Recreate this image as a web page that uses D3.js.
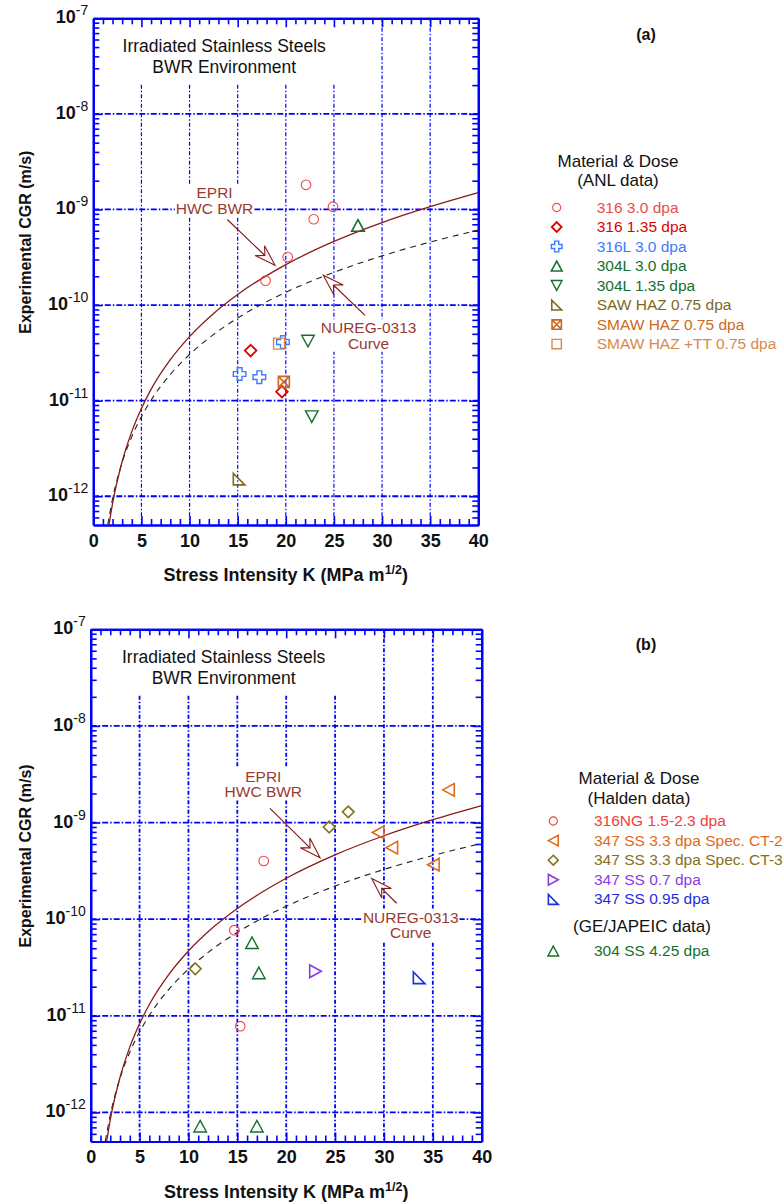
<!DOCTYPE html>
<html><head><meta charset="utf-8">
<script src="https://cdn.jsdelivr.net/npm/d3@7"></script>
<style>
body{margin:0;background:#fff}
svg{display:block}
text{font-family:"Liberation Sans",Arial,Helvetica,sans-serif}
</style>
</head><body>
<svg id="c" width="783" height="1204"></svg>
<script>
// ---------------- DATA ----------------
const xDomain = [0, 40];
const yDomain = [5e-13, 1e-7];
const xTickValues = [0, 5, 10, 15, 20, 25, 30, 35, 40];
const xGridValues = [5, 10, 15, 20, 25, 30, 35];
const yDecadeValues = [1e-12, 1e-11, 1e-10, 1e-9, 1e-8, 1e-7];
const yTickExponents = ["-12", "-11", "-10", "-9", "-8", "-7"];

// Model curves (K in MPa m^1/2, CGR in m/s)
const kCurve   = [1.5, 2, 3, 4, 5, 6, 8, 10, 12.5, 15, 20, 25, 30, 35, 40];
const epriCGR  = [4.08e-13, 8.37e-13, 2.31e-12, 4.74e-12, 8.27e-12, 1.31e-11, 2.68e-11, 4.68e-11, 8.18e-11, 1.29e-10, 2.65e-10, 4.63e-10, 7.30e-10, 1.07e-9, 1.50e-9];
const nuregCGR = [5.04e-13, 9.39e-13, 2.26e-12, 4.20e-12, 6.80e-12, 1.01e-11, 1.88e-11, 3.04e-11, 4.93e-11, 7.31e-11, 1.36e-10, 2.20e-10, 3.27e-10, 4.56e-10, 6.08e-10];

// (a) ANL data  [K, CGR]
const anl316_30   = [[22.1, 1.81e-9], [24.9, 1.07e-9], [22.9, 7.9e-10], [20.2, 3.18e-10], [17.9, 1.80e-10]];
const anl316_135  = [[16.35, 3.34e-11], [19.6, 1.24e-11]];
const anl316L_30  = [[15.2, 1.9e-11], [17.25, 1.76e-11], [19.7, 4.1e-11]];
const anl304L_30  = [[27.5, 6.8e-10]];
const anl304L_135 = [[22.3, 4.2e-11], [22.7, 6.8e-12]];
const anlSAW      = [[15.15, 1.51e-12]];
const anlSMAW     = [[19.8, 1.57e-11]];
const anlSMAWTT   = [[19.3, 3.95e-11]];
const anlNames = ["316 3.0 dpa", "316 1.35 dpa", "316L 3.0 dpa", "304L 3.0 dpa", "304L 1.35 dpa", "SAW HAZ 0.75 dpa", "SMAW HAZ 0.75 dpa", "SMAW HAZ +TT 0.75 dpa"];

// (b) Halden and GE/JAPEIC data [K, CGR]
const hal316NG   = [[17.7, 4.0e-10], [14.7, 7.7e-11], [15.3, 7.8e-12]];
const hal347CT2  = [[36.6, 2.18e-9], [29.4, 7.9e-10], [30.8, 5.5e-10], [35.05, 3.66e-10]];
const hal347CT3  = [[24.4, 9.0e-10], [26.35, 1.29e-9], [10.7, 3.06e-11]];
const hal347_07  = [[23.0, 2.89e-11]];
const hal347_095 = [[33.6, 2.47e-11]];
const ge304      = [[16.5, 5.7e-11], [17.2, 2.78e-11], [11.2, 7.2e-13], [17.0, 7.2e-13]];
const halNames = ["316NG 1.5-2.3 dpa", "347 SS 3.3 dpa Spec. CT-2", "347 SS 3.3 dpa Spec. CT-3", "347 SS 0.7 dpa", "347 SS 0.95 dpa"];
const geNames = ["304 SS 4.25 dpa"];

// ---------------- STYLE ----------------
const BLUE = "#0000ff";
const CURVE_RED = "#8a1a1a";
const LABEL_RED = "#9b3a32";

function symPath(type, k) {
  k = k || 1;
  const r = 4.8 * k, h = 5.8 * k, a = 2.4 * k, b = 6.3 * k, w = 6.3 * k, t = 5.8 * k, s = 5.5 * k, q = 5.8 * k;
  switch (type) {
    case "circle": return `M${-r},0a${r},${r} 0 1,0 ${2*r},0a${r},${r} 0 1,0 ${-2*r},0Z`;
    case "diamond": return `M0,${-h}L${h},0L0,${h}L${-h},0Z`;
    case "plus": return `M${-a},${-b}L${a},${-b}L${a},${-a}L${b},${-a}L${b},${a}L${a},${a}L${a},${b}L${-a},${b}L${-a},${a}L${-b},${a}L${-b},${-a}L${-a},${-a}Z`;
    case "triUp": return `M0,${-t}L${w},${t}L${-w},${t}Z`;
    case "triDown": return `M0,${t}L${w},${-t}L${-w},${-t}Z`;
    case "triLeft": return `M${-t},0L${t},${-w}L${t},${w}Z`;
    case "triRight": return `M${t},0L${-t},${-w}L${-t},${w}Z`;
    case "rightTri": return `M${-q},${-q}L${-q},${q}L${q},${q}Z`;
    case "square": return `M${-s},${-s}H${s}V${s}H${-s}Z`;
    case "squareX": return `M${-s},${-s}H${s}V${s}H${-s}ZM${-s},${-s}L${s},${s}M${s},${-s}L${-s},${s}`;
  }
}

const seriesA = [
  {data: anl316_30,   sym: "circle",   color: "#ee4a4a", sw: 1.1},
  {data: anl316_135,  sym: "diamond",  color: "#e00000", sw: 1.8},
  {data: anl316L_30,  sym: "plus",     color: "#3d7cff", sw: 1.4},
  {data: anl304L_30,  sym: "triUp",    color: "#16702c", sw: 1.6},
  {data: anl304L_135, sym: "triDown",  color: "#16702c", sw: 1.4},
  {data: anlSAW,      sym: "rightTri", color: "#7d6a1e", sw: 1.6},
  {data: anlSMAW,     sym: "squareX",  color: "#cc6a20", sw: 1.6},
  {data: anlSMAWTT,   sym: "square",   color: "#d8894a", sw: 1.4}
];
const seriesB = [
  {data: hal316NG,   sym: "circle",   color: "#ee4040", sw: 1.1},
  {data: hal347CT2,  sym: "triLeft",  color: "#dd6a1c", sw: 1.6},
  {data: hal347CT3,  sym: "diamond",  color: "#85701e", sw: 1.6},
  {data: hal347_07,  sym: "triRight", color: "#8a3de6", sw: 1.6},
  {data: hal347_095, sym: "rightTri", color: "#1c2ee0", sw: 1.6},
  {data: ge304,      sym: "triUp",    color: "#16702c", sw: 1.4}
];

const svg = d3.select("#c");

function drawPanel(cfg) {
  const g = svg.append("g");
  const x = d3.scaleLinear().domain(xDomain).range([cfg.left, cfg.right]);
  const y = d3.scaleLog().domain(yDomain).range([cfg.bottom, cfg.top]);
  const clipId = "clip" + cfg.id;
  svg.append("clipPath").attr("id", clipId).append("rect")
    .attr("x", cfg.left).attr("y", cfg.top)
    .attr("width", cfg.right - cfg.left).attr("height", cfg.bottom - cfg.top);

  // grid
  g.append("g").selectAll("line").data(xGridValues).join("line")
    .attr("x1", d => x(d)).attr("x2", d => x(d))
    .attr("y1", cfg.top).attr("y2", cfg.bottom)
    .attr("stroke", BLUE).attr("stroke-width", cfg.vGridW)
    .attr("stroke-dasharray", "4,2,1.5,2");
  g.append("g").selectAll("line").data(yDecadeValues.slice(0, 5)).join("line")
    .attr("x1", cfg.left).attr("x2", cfg.right)
    .attr("y1", d => y(d)).attr("y2", d => y(d))
    .attr("stroke", BLUE).attr("stroke-width", cfg.hGridW)
    .attr("stroke-dasharray", "6,2,1.5,2");

  // title background box + title
  g.append("rect").attr("x", x(0) + 1.5).attr("y", cfg.top + 1.5)
    .attr("width", x(27) - x(0) - 1.5).attr("height", 64).attr("fill", "#fff");
  const tt = g.append("text").attr("text-anchor", "middle").attr("font-size", 17.5).attr("fill", "#111");
  tt.append("tspan").attr("x", x(13.6)).attr("y", cfg.top + 34).text("Irradiated Stainless Steels");
  tt.append("tspan").attr("x", x(13.6)).attr("y", cfg.top + 55).text("BWR Environment");

  // axes
  const minorX = d3.range(1, 40).filter(d => d % 5 !== 0);
  const minorY = [];
  for (let e = -13; e <= -8; e++) for (let m = 2; m <= 9; m++) {
    const v = m * Math.pow(10, e);
    if (v > yDomain[0] * 1.01 && v < yDomain[1]) minorY.push(v);
  }
  const styleAxis = sel => {
    sel.select(".domain").attr("stroke", BLUE).attr("stroke-width", 2.2);
    sel.selectAll(".tick line").attr("stroke", BLUE).attr("stroke-width", 1.6);
  };
  g.append("g").attr("transform", `translate(0,${cfg.bottom})`)
    .call(d3.axisBottom(x).tickValues(minorX).tickSize(-6).tickSizeOuter(0).tickFormat("")).call(styleAxis);
  g.append("g").attr("transform", `translate(0,${cfg.top})`)
    .call(d3.axisTop(x).tickValues(minorX).tickSize(-6).tickSizeOuter(0).tickFormat("")).call(styleAxis);
  g.append("g").attr("transform", `translate(${cfg.left},0)`)
    .call(d3.axisLeft(y).tickValues(minorY).tickSize(-6).tickSizeOuter(0).tickFormat("")).call(styleAxis);
  g.append("g").attr("transform", `translate(${cfg.right},0)`)
    .call(d3.axisRight(y).tickValues(minorY).tickSize(-6).tickSizeOuter(0).tickFormat("")).call(styleAxis);
  g.append("g").attr("transform", `translate(0,${cfg.top})`)
    .call(d3.axisTop(x).tickValues(xTickValues).tickSize(-9).tickSizeOuter(0).tickFormat("")).call(styleAxis);
  g.append("g").attr("transform", `translate(${cfg.right},0)`)
    .call(d3.axisRight(y).tickValues(yDecadeValues).tickSize(-9).tickSizeOuter(0).tickFormat("")).call(styleAxis);
  const xb = g.append("g").attr("transform", `translate(0,${cfg.bottom})`)
    .call(d3.axisBottom(x).tickValues(xTickValues).tickSize(-9).tickSizeOuter(0).tickPadding(9).tickFormat(d3.format("d")))
    .call(styleAxis);
  xb.selectAll(".tick text").attr("font-size", 18).attr("font-weight", "bold").attr("fill", "#111")
    .attr("font-family", "'Liberation Sans',Arial,sans-serif");
  const yl = g.append("g").attr("transform", `translate(${cfg.left},0)`)
    .call(d3.axisLeft(y).tickValues(yDecadeValues).tickSize(-9).tickSizeOuter(0).tickPadding(5).tickFormat(""))
    .call(styleAxis);
  yl.selectAll(".tick").each(function(d, i) {
    const t = d3.select(this).select("text").attr("x", -5).attr("dy", null).attr("y", 4.5)
      .attr("text-anchor", "end").attr("fill", "#111").attr("font-family", "'Liberation Sans',Arial,sans-serif");
    t.text(null);
    t.append("tspan").attr("font-size", 18).attr("font-weight", "bold").text("10");
    t.append("tspan").attr("font-size", 14).attr("dy", -8).text(yTickExponents[i]);
  });

  // axis titles
  const xt = g.append("text").attr("x", (cfg.left + cfg.right) / 2).attr("y", cfg.bottom + 56)
    .attr("text-anchor", "middle").attr("font-size", 18).attr("font-weight", "bold").attr("fill", "#111");
  xt.append("tspan").text("Stress Intensity K (MPa m");
  xt.append("tspan").attr("font-size", 12.5).attr("dy", -7).text("1/2");
  xt.append("tspan").attr("dy", 7).text(")");
  g.append("text").attr("transform", `translate(31,${(cfg.top + cfg.bottom) / 2 - 29.5}) rotate(-90)`)
    .attr("text-anchor", "middle").attr("font-size", 16).attr("font-weight", "bold").attr("fill", "#111")
    .text("Experimental CGR (m/s)");

  // curves
  const line = d3.line().x(d => x(d[0])).y(d => y(d[1])).curve(d3.curveMonotoneX);
  const cg = g.append("g").attr("clip-path", `url(#${clipId})`);
  cg.append("path").datum(kCurve.map((k, i) => [k, nuregCGR[i]])).attr("d", line)
    .attr("fill", "none").attr("stroke", "#222").attr("stroke-width", 1.1).attr("stroke-dasharray", "6,5");
  cg.append("path").datum(kCurve.map((k, i) => [k, epriCGR[i]])).attr("d", line)
    .attr("fill", "none").attr("stroke", CURVE_RED).attr("stroke-width", 1.3);

  // annotations
  cfg.notes.forEach(n => {
    const ng = g.append("g");
    const lt = ng.append("text").attr("text-anchor", "middle").attr("font-size", 15.5).attr("fill", LABEL_RED);
    const lx = x(n.label[0]), ly = y(n.label[1]);
    n.lines.forEach((s, i) => lt.append("tspan").attr("x", lx).attr("y", ly + i * 15.5).text(s));
    const bb = lt.node().getBBox();
    ng.insert("rect", "text").attr("x", bb.x - 1).attr("y", bb.y).attr("width", bb.width + 2).attr("height", bb.height)
      .attr("fill", "#fff");
    const tx = x(n.tip[0]), ty = y(n.tip[1]), sx = x(n.tail[0]), sy = y(n.tail[1]);
    const L = Math.hypot(tx - sx, ty - sy), ux = (tx - sx) / L, uy = (ty - sy) / L, px = -uy, py = ux;
    const HL = 21, HW = 6.8, NL = 14;
    ng.append("line").attr("x1", sx).attr("y1", sy).attr("x2", tx - NL * ux).attr("y2", ty - NL * uy)
      .attr("stroke", CURVE_RED).attr("stroke-width", 1.2);
    ng.append("path").attr("d",
      `M${tx},${ty}L${tx - HL*ux + HW*px},${ty - HL*uy + HW*py}L${tx - NL*ux},${ty - NL*uy}L${tx - HL*ux - HW*px},${ty - HL*uy - HW*py}Z`)
      .attr("fill", "#fff").attr("stroke", CURVE_RED).attr("stroke-width", 1.1);
  });

  // data points
  cfg.series.forEach(s => {
    g.append("g").selectAll("path").data(s.data).join("path")
      .attr("transform", d => `translate(${x(d[0])},${y(d[1])})`)
      .attr("d", symPath(s.sym)).attr("fill", "none").attr("stroke", s.color).attr("stroke-width", s.sw);
  });

  // panel letter
  svg.append("text").attr("x", 646).attr("y", cfg.letterY).attr("text-anchor", "middle")
    .attr("font-size", 16).attr("font-weight", "bold").attr("fill", "#111").text(cfg.letter);
}

function drawLegend(cfg) {
  const g = svg.append("g");
  const tt = g.append("text").attr("text-anchor", "middle").attr("font-size", 17).attr("fill", "#111");
  tt.append("tspan").attr("x", cfg.titleX).attr("y", cfg.titleY).text("Material & Dose");
  tt.append("tspan").attr("x", cfg.titleX).attr("y", cfg.titleY + 19.5).text(cfg.sub);
  cfg.items.forEach(it => {
    g.append("path").attr("transform", `translate(${cfg.symX},${it.y - 5})`)
      .attr("d", symPath(it.s.sym, 0.85)).attr("fill", "none").attr("stroke", it.s.color).attr("stroke-width", it.s.sw);
    g.append("text").attr("x", cfg.textX).attr("y", it.y).attr("font-size", 15.5).attr("fill", it.s.color).text(it.name);
  });
  (cfg.extra || []).forEach(e => {
    g.append("text").attr("x", e.x).attr("y", e.y).attr("font-size", 17).attr("fill", "#111").text(e.text);
  });
}

drawPanel({
  id: "a", left: 93.3, right: 478.3, top: 18.3, bottom: 525, vGridW: 1.2, hGridW: 1.8,
  series: seriesA, letter: "(a)", letterY: 40,
  notes: [
    {lines: ["EPRI", "HWC BWR"], label: [12.6, 1.31e-9], tip: [18.88, 2.61e-10], tail: [13.92, 7.85e-10]},
    {lines: ["NUREG-0313", "Curve"], label: [28.6, 5.07e-11], tip: [23.9, 2.05e-10], tail: [28.23, 7.8e-11]}
  ]
});
drawPanel({
  id: "b", left: 90.7, right: 481.7, top: 629.3, bottom: 1141.5, vGridW: 1.8, hGridW: 1.8,
  series: seriesB, letter: "(b)", letterY: 650,
  notes: [
    {lines: ["EPRI", "HWC BWR"], label: [17.66, 2.64e-9], tip: [23.46, 4.33e-10], tail: [18.34, 1.40e-9]},
    {lines: ["NUREG-0313", "Curve"], label: [32.74, 9.18e-11], tip: [28.75, 2.64e-10], tail: [31.3, 1.46e-10]}
  ]
});

drawLegend({
  titleX: 618, titleY: 166.5, sub: "(ANL data)", symX: 556.7, textX: 596.7,
  items: anlNames.map((n, i) => ({name: n, s: seriesA[i], y: 212.5 + i * 19.5}))
});
drawLegend({
  titleX: 639, titleY: 784, sub: "(Halden data)", symX: 553.3, textX: 594,
  items: halNames.map((n, i) => ({name: n, s: seriesB[i], y: 826 + i * 19.6}))
    .concat(geNames.map(n => ({name: n, s: seriesB[5], y: 956}))),
  extra: [{text: "(GE/JAPEIC data)", x: 573, y: 931.5}]
});
</script>
</body></html>
